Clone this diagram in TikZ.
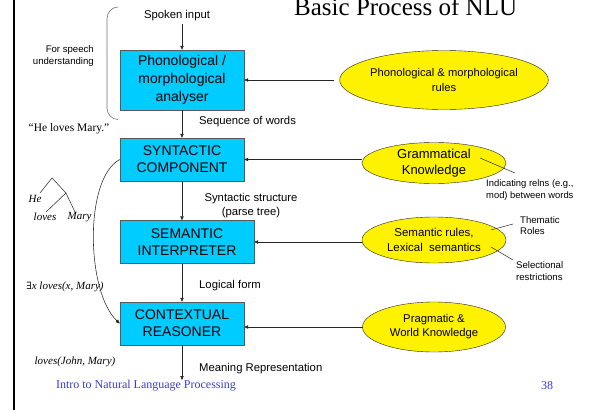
\documentclass[tikz,border=0pt]{standalone}
\usepackage{fontspec}
\setmainfont{Liberation Serif}
\newfontfamily\arial{Liberation Sans}
\newfontfamily\dvserif{DejaVu Serif}
\usetikzlibrary{arrows.meta,shapes.geometric}
\definecolor{boxcyan}{RGB}{0,204,255}
\definecolor{footblue}{RGB}{60,60,215}
\begin{document}
\begin{tikzpicture}[x=1pt,y=-1pt,
  box/.style={draw=black!65, fill=boxcyan, inner sep=0, align=center, font=\arial\fontsize{14}{17}\selectfont},
  ell/.style={ellipse, draw=black!85, fill=yellow, inner sep=0, align=center},
  arr/.style={-{Triangle[length=4pt,width=3.4pt]}, draw=black!85, line width=0.55pt},
  thin/.style={draw=black!85, line width=0.5pt},
  lbl/.style={inner sep=0, font=\arial\fontsize{11.3}{14}\selectfont},
  note/.style={inner sep=0, align=left, font=\arial\fontsize{9.4}{12.5}\selectfont},
  ser/.style={inner sep=0, font=\fontsize{11.5}{14}\selectfont},
  seri/.style={inner sep=0, font=\itshape\fontsize{11}{14}\selectfont}]
\useasboundingbox (0,0) rectangle (597,410);
\fill[white] (0,0) rectangle (597,410);
% left rule
\fill[black] (12.8,0) rectangle (15.3,410);
% title
\node[anchor=base west, inner sep=0, font=\fontsize{25}{28}\selectfont] (title) at (294,15) {Basic Process of NLU};
% boxes
\node[box, minimum width=124, minimum height=60, font=\arial\fontsize{14}{18}\selectfont] (b1) at (182,80) {Phonological /\\morphological\\analyser};
\node[box, minimum width=124, minimum height=43] (b2) at (182,159.5) {SYNTACTIC\\COMPONENT};
\node[box, minimum width=134, minimum height=43] (b3) at (187,242) {SEMANTIC\\INTERPRETER};
\node[box, minimum width=124, minimum height=43] (b4) at (182,323.5) {CONTEXTUAL\\REASONER};
% ellipses
\node[ell, minimum width=173, minimum height=59, font=\arial\fontsize{11.2}{14.5}\selectfont] (e1) at (444,80) {Phonological \& morphological\\rules};
\node[ell, minimum width=144, minimum height=41, font=\arial\fontsize{13}{15.5}\selectfont] (e2) at (434,163) {Grammatical\\Knowledge};
\node[ell, minimum width=144, minimum height=46, font=\arial\fontsize{11.5}{15}\selectfont] (e3) at (434,240) {Semantic rules,\\Lexical\ \ semantics};
\node[ell, minimum width=143, minimum height=50, font=\arial\fontsize{11.3}{14}\selectfont] (e4) at (434,327) {Pragmatic \&\\World Knowledge};
% flow labels
\node[lbl] (spoken) at (177,16) {Spoken input};
\node[lbl, anchor=west] (seq) at (199,122) {Sequence of words};
\node[lbl, align=center] (synt) at (251,206) {Syntactic structure\\(parse tree)};
\node[lbl, anchor=west] (logic) at (199,286) {Logical form};
\node[lbl, anchor=west] (mean) at (199,369) {Meaning Representation};
\coordinate (out) at (182,380);
% main arrows
\draw[arr] (b1.north |- spoken.south) ++(0,3) -- (b1.north);
\draw[arr] (b1.south) -- (b2.north);
\draw[arr] (b2.south) -- (b2.south |- b3.north);
\draw[arr] (b4.north |- b3.south) -- (b4.north);
\draw[arr] (b4.south) -- (out);
% knowledge arrows
\draw[arr] ([xshift=-5]e1.west) -- (b1.east);
\draw[arr] (e2.west |- b2.east) -- (b2.east);
\draw[arr] (e3.west |- b3.east) -- (b3.east);
\draw[arr] ([xshift=1]e4.west) -- (e4.west -| b4.east);
% notes
\coordinate (n1a) at (480,158); \coordinate (n1b) at (515,173);
\draw[thin] (n1a) -- (n1b);
\node[note, anchor=north west] (n1) at (486,179) {Indicating relns (e.g.,\\mod) between words};
\coordinate (n2a) at (491,230); \coordinate (n2b) at (513,224);
\draw[thin] (n2a) -- (n2b);
\node[note, anchor=north west, font=\arial\fontsize{9.6}{11.5}\selectfont] (n2) at (520,216) {Thematic\\Roles};
\coordinate (n3a) at (491,247); \coordinate (n3b) at (513,260);
\draw[thin] (n3a) -- (n3b);
\node[note, anchor=north west, font=\arial\fontsize{9.6}{12}\selectfont] (n3) at (516,261) {Selectional\\restrictions};
% left side
\draw[black!55, line width=0.6pt] (118,7) to[out=180,in=90] (107,19) -- (107,108) to[out=-90,in=180] (118,119.5);
\node[note, anchor=east, align=right, font=\arial\fontsize{9.6}{12}\selectfont] (speech) at (94,56) {For speech\\understanding};
\node[ser] (quote) at (69,129) {“He loves Mary.”};
% tree
\coordinate (tA) at (52,178);
\coordinate (tL) at (40,193);
\coordinate (tR) at (66,193);
\coordinate (tLo) at (46,212);
\coordinate (tMa) at (75,212);
\draw[thin] (tL) -- (tA) -- (tR) -- (tMa);
\draw[thin] (tR) -- (tLo);
\node[seri] (he) at (35,199) {He};
\node[seri] (loves) at (45,217) {loves};
\node[seri] (mary) at (79.5,217) {Mary};
\node[seri] (exists) at (65,287) {{\dvserif\fontsize{10}{12}\selectfont ∃}x loves(x, Mary)};
\node[seri] (john) at (75,362) {loves(John, Mary)};
\draw[arr] (b2.west) .. controls (84,178) and (86,292) .. (b4.west);
% footer
\node[inner sep=0, text=footblue, font=\fontsize{12}{14}\selectfont] (foot) at (146,386) {Intro to Natural Language Processing};
\node[inner sep=0, text=footblue, font=\fontsize{12}{14}\selectfont] (page) at (547,386) {38};
\end{tikzpicture}
\end{document}
